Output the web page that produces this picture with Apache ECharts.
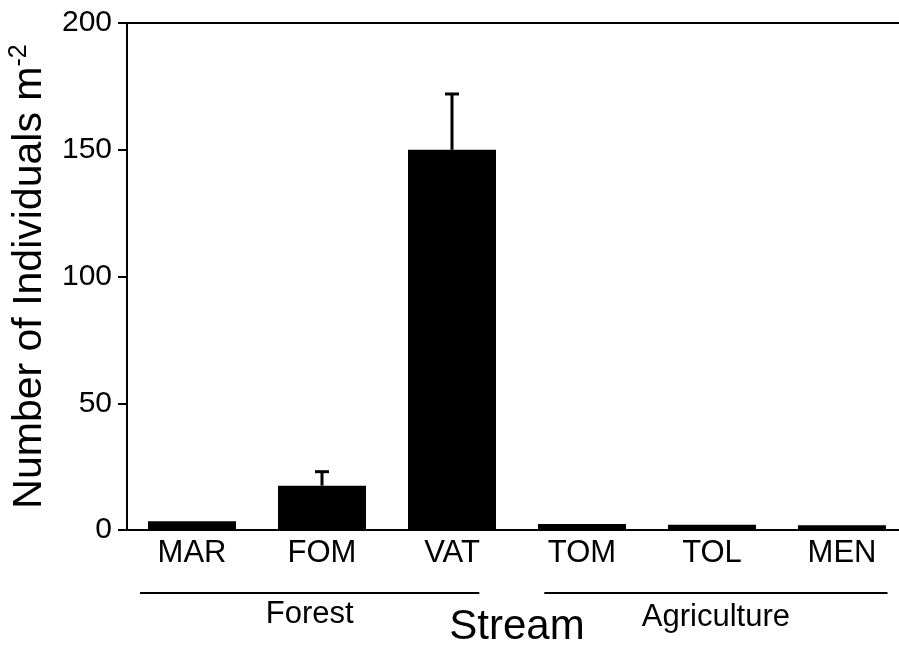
<!DOCTYPE html>
<html><head><meta charset="utf-8">
<script src="https://cdn.jsdelivr.net/npm/echarts@6/dist/echarts.min.js"></script>
<style>html,body{margin:0;padding:0;background:#fff}#c{width:899px;height:652px}</style>
</head><body><div id="c"></div>
<script>
var categories = ['MAR', 'FOM', 'VAT', 'TOM', 'TOL', 'MEN'];
var values = [3.5, 17.5, 150, 2.4, 2.1, 1.9];
var errorUpper = [null, 23, 172, null, null, null];
var yTicks = [0, 50, 100, 150, 200];
var groups = [
  { name: 'Forest', from: 0, to: 2 },
  { name: 'Agriculture', from: 3, to: 5 }
];

var FONT = 'Liberation Sans, Arial, Helvetica, sans-serif';
var chart = echarts.init(document.getElementById('c'), null, { renderer: 'canvas' });

var errData = [];
errorUpper.forEach(function (u, i) { if (u != null) errData.push([i, values[i], u]); });

var option = {
  backgroundColor: '#fff',
  animation: false,
  grid: { left: 127, top: 23, width: 780, height: 507, containLabel: false, outerBoundsMode: 'none' },
  xAxis: [{
    type: 'category', data: categories, position: 'bottom',
    axisLine: { lineStyle: { color: '#000', width: 2 } },
    axisTick: { alignWithLabel: true, length: 8, lineStyle: { color: '#000', width: 2 } },
    axisLabel: { color: '#000', fontSize: 31, fontFamily: FONT, margin: 8 },
    name: 'Stream', nameLocation: 'middle', nameGap: 76,
    nameTextStyle: { color: '#000', fontSize: 42, fontFamily: FONT }
  }, {
    type: 'category', data: categories, position: 'top',
    axisLine: { lineStyle: { color: '#000', width: 2 } },
    axisTick: { show: false }, axisLabel: { show: false }
  }],
  yAxis: {
    type: 'value', min: 0, max: 200, interval: 50,
    axisLine: { show: true, lineStyle: { color: '#000', width: 2 } },
    axisTick: { show: true, length: 9, lineStyle: { color: '#000', width: 2 } },
    splitLine: { show: false },
    axisLabel: { color: '#000', fontSize: 30, fontFamily: FONT, margin: 15,
      formatter: function (v) { return yTicks.indexOf(v) >= 0 ? String(v) : ''; } },
    name: '{a|Number of Individuals m}{b|-2}', nameLocation: 'middle', nameRotate: 90, nameGap: 74,
    nameTextStyle: { color: '#000', fontFamily: FONT,
      rich: { a: { fontSize: 41, fontFamily: FONT, color: '#000' },
              b: { fontSize: 25, fontFamily: FONT, color: '#000', verticalAlign: 'top', lineHeight: 46 } } }
  },
  series: [{
    type: 'bar', data: values, barWidth: 88, xAxisIndex: 0,
    itemStyle: { color: '#000' }
  }, {
    type: 'custom', xAxisIndex: 0, data: errData, z: 3,
    renderItem: function (params, api) {
      var x = api.value(0);
      var p0 = api.coord([x, api.value(1)]);
      var p1 = api.coord([x, api.value(2)]);
      var capHalf = 7;
      var style = { stroke: '#000', lineWidth: 3 };
      return { type: 'group', children: [
        { type: 'line', shape: { x1: p0[0], y1: p0[1], x2: p1[0], y2: p1[1] }, style: style },
        { type: 'line', shape: { x1: p1[0] - capHalf, y1: p1[1], x2: p1[0] + capHalf, y2: p1[1] }, style: style }
      ] };
    }
  }]
};
chart.setOption(option);

var px0 = chart.convertToPixel({ xAxisIndex: 0 }, 0);
var px1 = chart.convertToPixel({ xAxisIndex: 0 }, 1);
var band = px1 - px0;
var spans = [[-0.4, 0.21], [-0.29, 0.35]];
var gfx = [];
groups.forEach(function (g, gi) {
  var a = chart.convertToPixel({ xAxisIndex: 0 }, g.from) + spans[gi][0] * band;
  var b = chart.convertToPixel({ xAxisIndex: 0 }, g.to) + spans[gi][1] * band;
  gfx.push({ type: 'line', shape: { x1: a, y1: 593, x2: b, y2: 593 }, style: { stroke: '#000', lineWidth: 2 } });
  gfx.push({ type: 'text', x: (a + b) / 2, y: 614 + gi * 3, style: { text: g.name, fill: '#000',
    font: '31px ' + FONT, textAlign: 'center', textVerticalAlign: 'middle' } });
});
chart.setOption({ graphic: gfx });
</script></body></html>
